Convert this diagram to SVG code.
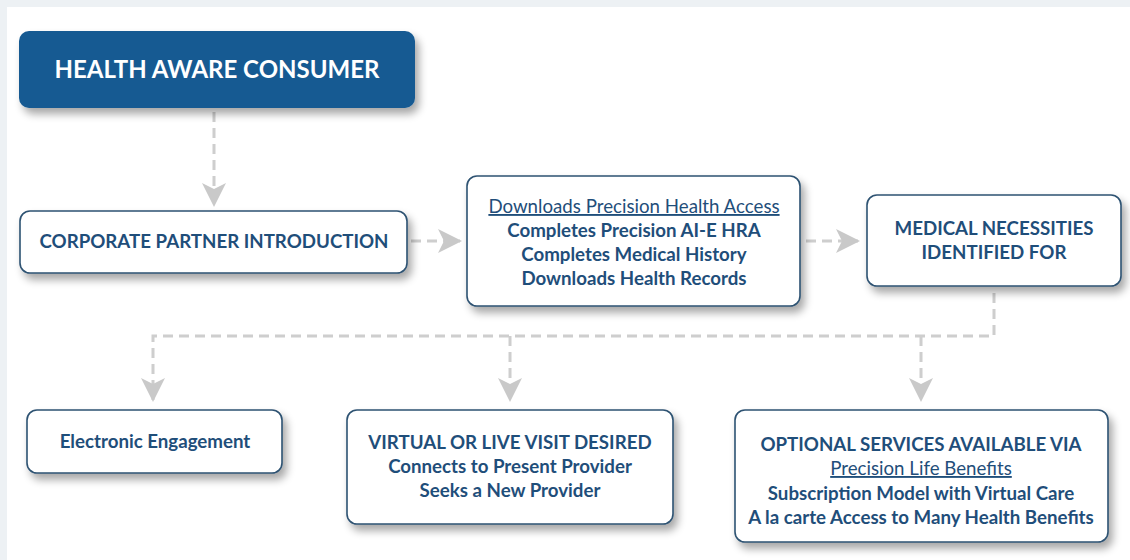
<svg xmlns="http://www.w3.org/2000/svg" width="1130" height="560" viewBox="0 0 1130 560">
<defs>
<filter id="sh" x="-10%" y="-20%" width="130%" height="150%">
<feGaussianBlur in="SourceAlpha" stdDeviation="4"/>
<feOffset dx="4" dy="6" result="b"/>
<feComponentTransfer><feFuncA type="linear" slope="0.35"/></feComponentTransfer>
<feMerge><feMergeNode/><feMergeNode in="SourceGraphic"/></feMerge>
</filter>
<marker id="ah" viewBox="0 0 24 24" refX="22" refY="12" markerWidth="24" markerHeight="24" markerUnits="userSpaceOnUse" orient="auto">
<path d="M0,0 L24,12 L0,24 L6,12 Z" fill="#c9c9c9"/>
</marker>
</defs>
<style>
.box{fill:#fff;stroke:#2d5272;stroke-width:1.6;filter:url(#sh)}
.t{font-family:Lato,"Liberation Sans",sans-serif;font-weight:bold;fill:#1f4e7a;text-anchor:middle;font-size:18.7px}
.u{text-decoration:underline;font-weight:normal}
.c{fill:none;stroke:#cecece;stroke-width:3;stroke-dasharray:10 6}
</style>
<rect width="1130" height="560" fill="#edf1f4"/>
<rect x="7" y="7" width="1123" height="553" fill="#fff"/>
<g id="connectors">
<path class="c" d="M214,112 V205" marker-end="url(#ah)"/>
<path class="c" d="M411,241 H460" marker-end="url(#ah)"/>
<path class="c" d="M806,241 H858" marker-end="url(#ah)"/>
<path class="c" d="M994,293 V336 H153 V400" marker-end="url(#ah)"/>
<path class="c" d="M510,336 V400" marker-end="url(#ah)"/>
<path class="c" d="M921,336 V400" marker-end="url(#ah)"/>
</g>
<g id="n1">
<rect x="19" y="31" width="396" height="77" rx="10" fill="#175a92" filter="url(#sh)"/>
<text class="t" x="217" y="78" style="fill:#fff;font-size:24px">HEALTH AWARE CONSUMER</text>
</g>
<g id="n2">
<rect class="box" x="20" y="211" width="387" height="62" rx="10"/>
<text class="t" x="214" y="248">CORPORATE PARTNER INTRODUCTION</text>
</g>
<g id="n3">
<rect class="box" x="467" y="176" width="333" height="130" rx="10"/>
<text class="t u" x="634" y="213">Downloads Precision Health Access</text>
<text class="t" x="634" y="237">Completes Precision AI-E HRA</text>
<text class="t" x="634" y="261">Completes Medical History</text>
<text class="t" x="634" y="285">Downloads Health Records</text>
</g>
<g id="n4">
<rect class="box" x="867" y="195" width="254" height="91" rx="10"/>
<text class="t" x="994" y="235">MEDICAL NECESSITIES</text>
<text class="t" x="994" y="259">IDENTIFIED FOR</text>
</g>
<g id="n5">
<rect class="box" x="27" y="410" width="255" height="63" rx="10"/>
<text class="t" x="155" y="448">Electronic Engagement</text>
</g>
<g id="n6">
<rect class="box" x="347" y="410" width="326" height="114" rx="10"/>
<text class="t" x="510" y="449">VIRTUAL OR LIVE VISIT DESIRED</text>
<text class="t" x="510" y="473">Connects to Present Provider</text>
<text class="t" x="510" y="497">Seeks a New Provider</text>
</g>
<g id="n7">
<rect class="box" x="735" y="410" width="373" height="132" rx="10"/>
<text class="t" x="921" y="451">OPTIONAL SERVICES AVAILABLE VIA</text>
<text class="t u" x="921" y="475">Precision Life Benefits</text>
<text class="t" x="921" y="500">Subscription Model with Virtual Care</text>
<text class="t" x="921" y="524">A la carte Access to Many Health Benefits</text>
</g>
</svg>
